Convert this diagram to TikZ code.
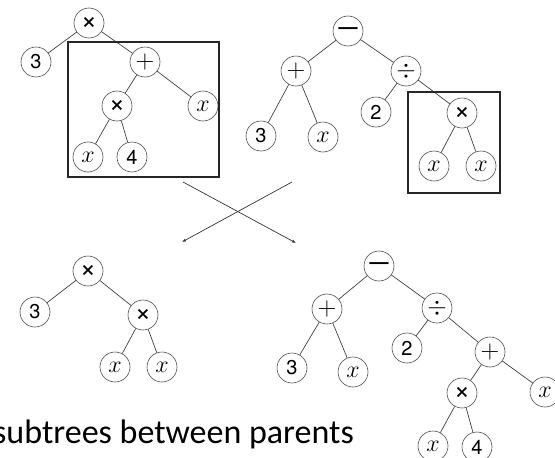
\documentclass[tikz,border=0pt]{standalone}
\usepackage{fontspec}
\usepackage{fix-cm}
\usetikzlibrary{arrows.meta}
\newfontfamily\helv{TeX Gyre Heros}
\newfontfamily\calib{Carlito}
\newcommand{\opmul}{{\helv\fontsize{28}{28}\selectfont ×}}
\newcommand{\opadd}{{\fontsize{26}{26}\selectfont$+$}}
\newcommand{\opdiv}{{\fontsize{25}{25}\selectfont$\div$}}
\newcommand{\opsub}{{\helv\bfseries\fontsize{19}{19}\selectfont —}}
\begin{document}
\begin{tikzpicture}[x=1pt,y=-1pt,
  tn/.style={circle,draw=black!70,line width=0.6pt,minimum size=30pt,inner sep=0pt,font=\helv\fontsize{20}{20}\selectfont},
  xn/.style={tn,font=\fontsize{24}{24}\selectfont},
  edge/.style={draw=black!75,line width=0.7pt},
  selbox/.style={draw=black!85,line width=1.1pt},
  cross/.style={draw=black!80,line width=0.7pt,-{Latex[length=4pt,width=3pt]}}]
\useasboundingbox (0,0) rectangle (555,458);
\clip (0,0) rectangle (555,458);
% top-left tree
\node[tn] (a1) at (89,23) {\opmul};
\node[tn] (a2) at (36,62) {3};
\node[tn] (a3) at (145,62) {\opadd};
\node[tn] (a4) at (117,106) {\opmul};
\node[xn] (a5) at (203,106) {$x$};
\node[xn] (a6) at (88,157) {$x$};
\node[tn] (a7) at (132,157) {4};
\draw[edge] (a1)--(a2) (a1)--(a3) (a3)--(a4) (a3)--(a5) (a4)--(a6) (a4)--(a7);
\draw[selbox] (68,42) rectangle (219,177);
% top-right tree
\node[tn] (b1) at (348,31) {\opsub};
\node[tn] (b2) at (296,71) {\opadd};
\node[tn] (b3) at (406,71) {\opdiv};
\node[tn] (b4) at (261,136) {3};
\node[xn] (b5) at (323,137) {$x$};
\node[tn] (b6) at (376,112) {2};
\node[tn] (b7) at (462,113) {\opmul};
\node[xn] (b8) at (434,166) {$x$};
\node[xn] (b9) at (481,166) {$x$};
\draw[edge] (b1)--(b2) (b1)--(b3) (b2)--(b4) (b2)--(b5) (b3)--(b6) (b3)--(b7) (b7)--(b8) (b7)--(b9);
\draw[selbox] (408,92) rectangle (500,193);
% crossing arrows
\coordinate (c1s) at (183,182);
\coordinate (c1e) at (296,243);
\coordinate (c2s) at (292,182);
\coordinate (c2e) at (182,242);
\draw[cross] (c1s)--(c1e);
\draw[cross] (c2s)--(c2e);
% bottom-left tree
\node[tn] (d1) at (88,271) {\opmul};
\node[tn] (d2) at (35,312) {3};
\node[tn] (d3) at (143,315) {\opmul};
\node[xn] (d4) at (115,367) {$x$};
\node[xn] (d5) at (162,367) {$x$};
\draw[edge] (d1)--(d2) (d1)--(d3) (d3)--(d4) (d3)--(d5);
% bottom-right tree
\node[tn] (e1) at (379,266) {\opsub};
\node[tn] (e2) at (327,309) {\opadd};
\node[tn] (e3) at (437,308) {\opdiv};
\node[tn] (e4) at (292,368) {3};
\node[xn] (e5) at (353,372) {$x$};
\node[tn] (e6) at (407,348) {2};
\node[tn] (e7) at (490,352) {\opadd};
\node[tn] (e8) at (462,393) {\opmul};
\node[xn] (e9) at (545,392) {$x$};
\node[xn] (e10) at (433,446) {$x$};
\node[tn] (e11) at (477,447) {4};
\draw[edge] (e1)--(e2) (e1)--(e3) (e2)--(e4) (e2)--(e5) (e3)--(e6) (e3)--(e7) (e7)--(e8) (e7)--(e9) (e8)--(e10) (e8)--(e11);
% caption
\node[anchor=base west,inner sep=0pt,font=\calib\fontsize{34}{34}\selectfont] (cap) at (-7,443) {subtrees between parents};
\end{tikzpicture}
\end{document}
